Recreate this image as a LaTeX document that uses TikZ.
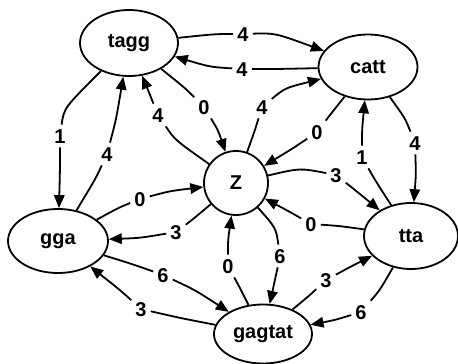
\documentclass[tikz,border=0pt]{standalone}
\usepackage{fontspec}
\setmainfont{Liberation Sans}
\usetikzlibrary{shapes.geometric,arrows.meta}
\tikzset{
  st/.style={draw, ellipse, line width=1.8pt, inner sep=0pt, font=\fontsize{20}{24}\selectfont\bfseries},
  lbl/.style={inner sep=4pt, text height=14.3pt, text depth=0pt, font=\fontsize{20}{24}\selectfont\bfseries},
  ed/.style={line width=1.8pt, -{Triangle[length=13pt,width=10.5pt]}}
}
\begin{document}
\begin{tikzpicture}[x=1pt,y=-1pt]
\useasboundingbox (0,0) rectangle (458,364);
% states
\node[st, minimum width=98pt, minimum height=66pt] (tagg) at (129,43) {tagg};
\node[st, minimum width=99pt, minimum height=65pt] (catt) at (368,67) {catt};
\node[st, circle, minimum size=64pt] (Z) at (236,183) {Z};
\node[st, minimum width=100pt, minimum height=64pt] (gga) at (58,241) {gga};
\node[st, minimum width=94pt, minimum height=66pt] (tta) at (411,236) {tta};
\node[st, minimum width=98pt, minimum height=59pt] (gagtat) at (263,334) {gagtat};
% labels
\node[lbl] (l1) at (243,34) {4};
\node[lbl] (l2) at (242,69) {4};
\node[lbl] (l3) at (60,136) {1};
\node[lbl] (l4) at (107,154) {4};
\node[lbl] (l5) at (158,115) {4};
\node[lbl] (l6) at (204,107) {0};
\node[lbl] (l7) at (262,107) {4};
\node[lbl] (l8) at (317,132) {0};
\node[lbl] (l9) at (336,175) {3};
\node[lbl] (l10) at (362,157) {1};
\node[lbl] (l11) at (415,143) {4};
\node[lbl] (l12) at (311,224) {0};
\node[lbl] (l13) at (140,199) {0};
\node[lbl] (l14) at (176,232) {3};
\node[lbl] (l15) at (280,256) {6};
\node[lbl] (l16) at (228,266) {0};
\node[lbl] (l17) at (163,275) {6};
\node[lbl] (l18) at (141,309) {3};
\node[lbl] (l19) at (326,280) {3};
\node[lbl] (l20) at (361,312) {6};
% edges
\draw[ed] (tagg) .. controls (215,34) .. (l1) .. controls (275,33) .. (catt);
\draw[ed] (catt) .. controls (280,69) .. (l2) .. controls (210,67) .. (tagg);
\draw[ed] (tagg) .. controls (64,108) .. (l3) .. controls (60,170) .. (gga);
\draw[ed] (gga) .. controls (96,178) .. (l4) .. controls (116,120) .. (tagg);
\draw[ed] (Z) .. controls (175,140) .. (l5) .. controls (150,95) .. (tagg);
\draw[ed] (tagg) .. controls (185,88) .. (l6) .. controls (218,130) .. (Z);
\draw[ed] (Z) .. controls (255,130) .. (l7) .. controls (285,88) .. (catt);
\draw[ed] (catt) .. controls (330,115) .. (l8) .. controls (295,147) .. (Z);
\draw[ed] (Z) .. controls (300,168) .. (l9) .. controls (355,190) .. (tta);
\draw[ed] (tta) .. controls (375,180) .. (l10) .. controls (362,130) .. (catt);
\draw[ed] (catt) .. controls (405,118) .. (l11) .. controls (416,175) .. (tta);
\draw[ed] (tta) .. controls (340,226) .. (l12) .. controls (290,212) .. (Z);
\draw[ed] (gga) .. controls (118,208) .. (l13) .. controls (170,191) .. (Z);
\draw[ed] (Z) .. controls (192,220) .. (l14) .. controls (140,238) .. (gga);
\draw[ed] (Z) .. controls (276,228) .. (l15) .. controls (275,280) .. (gagtat);
\draw[ed] (gagtat) .. controls (240,288) .. (l16) .. controls (228,240) .. (Z);
\draw[ed] (gga) .. controls (135,265) .. (l17) .. controls (195,290) .. (gagtat);
\draw[ed] (gagtat) .. controls (180,318) .. (l18) .. controls (120,290) .. (gga);
\draw[ed] (gagtat) .. controls (310,295) .. (l19) .. controls (350,267) .. (tta);
\draw[ed] (tta) .. controls (380,290) .. (l20) .. controls (335,320) .. (gagtat);
\end{tikzpicture}
\end{document}
